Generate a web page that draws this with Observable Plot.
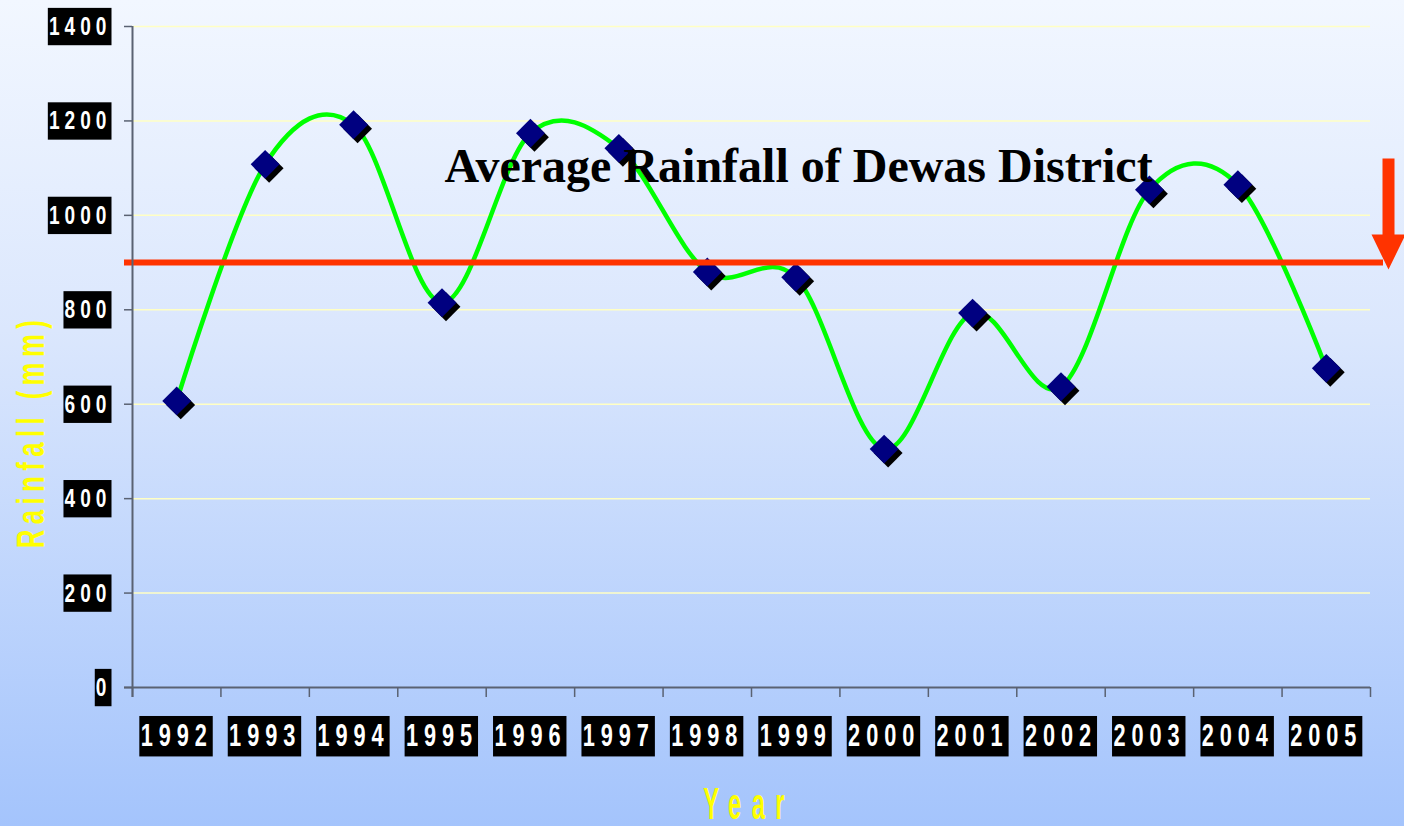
<!DOCTYPE html>
<html>
<head>
<meta charset="utf-8">
<script src="https://cdn.jsdelivr.net/npm/d3@7"></script>
<script src="https://cdn.jsdelivr.net/npm/@observablehq/plot@0.6"></script>
<style>
  html, body { margin: 0; padding: 0; }
  body { width: 1404px; height: 826px; overflow: hidden; }
  #chart svg { display: block; }
</style>
</head>
<body>
<div id="chart"></div>
<script>
// ---- data ----
const years = ["1992","1993","1994","1995","1996","1997","1998","1999","2000","2001","2002","2003","2004","2005"];
const rainfall = [607, 1108, 1192, 815, 1174, 1142, 880, 869, 505, 793, 637, 1054, 1065, 676];
const averageRainfall = [900];
const yTicks = [0, 200, 400, 600, 800, 1000, 1200, 1400];
const titleText = "Average Rainfall of Dewas District";
const xLabel = "Year";
const yLabel = "Rainfall (mm)";

const data = years.map((y, i) => ({year: +y, rainfall: rainfall[i]}));
const yearNums = years.map(Number);
const boundaries = yearNums.map(y => y - 0.5).concat([yearNums[yearNums.length - 1] + 0.5]);

const axisColor = "#5a6272";
const sans = "'Liberation Sans', Arial, sans-serif";

// filled arrow shape for the vector mark
const arrowShape = {
  draw(context, l) {
    const hl = 35, hw = 17, sw = 6;
    context.moveTo(-sw, 0);
    context.lineTo(-sw, -(l - hl));
    context.lineTo(-hw, -(l - hl));
    context.lineTo(0, -l);
    context.lineTo(hw, -(l - hl));
    context.lineTo(sw, -(l - hl));
    context.lineTo(sw, 0);
    context.closePath();
  }
};

const chart = Plot.plot({
  width: 1404,
  height: 826,
  marginLeft: 132,
  marginRight: 34,
  marginTop: 26,
  marginBottom: 139,
  style: {background: "linear-gradient(to bottom, #f2f7ff 0%, #dbe7fd 40%, #a4c4fc 100%)", overflow: "visible"},
  x: {domain: [boundaries[0], boundaries[boundaries.length - 1]], axis: null},
  y: {domain: [yTicks[0], yTicks[yTicks.length - 1]], axis: null},
  marks: [
    Plot.gridY(yTicks.slice(1), {stroke: "#ffffc4", strokeOpacity: 1, strokeWidth: 1.5}),
    Plot.line(data, {x: "year", y: "rainfall", curve: "cardinal", tension: 0, stroke: "#00ff00", strokeWidth: 4.5}),
    Plot.dot(data, {x: "year", y: "rainfall", symbol: "diamond2", r: 13, fill: "black", dx: 4, dy: 4}),
    Plot.dot(data, {x: "year", y: "rainfall", symbol: "diamond2", r: 13, fill: "#000080"}),
    Plot.ruleY(averageRainfall, {stroke: "#ff3300", strokeWidth: 6, insetLeft: -8, insetRight: -13}),
    Plot.vector(averageRainfall, {y: d => d, frameAnchor: "right", dx: 18, dy: 7, length: 111, rotate: 180, anchor: "end", shape: arrowShape, fill: "#ff3300", stroke: "none"}),
    // axis lines
    Plot.ruleX([boundaries[0]], {stroke: axisColor, strokeWidth: 2, insetBottom: -10}),
    Plot.ruleY([yTicks[0]], {stroke: axisColor, strokeWidth: 2, insetLeft: -8}),
    // y axis
    Plot.axisY({ticks: yTicks, label: null, tickSize: 8, tickPadding: 13, tickFormat: d => String(d), stroke: axisColor, strokeWidth: 1.5, fill: "white", fontSize: 26.5, fontWeight: "bold", fontFamily: sans}),
    // x axis boundary ticks
    Plot.axisX({ticks: boundaries, label: null, tickSize: 10, tickFormat: () => "", stroke: axisColor, strokeWidth: 1.5}),
    // x axis labels at year centres
    Plot.axisX({ticks: yearNums, label: null, tickSize: 0, tickPadding: 36, tickFormat: d => String(d), fill: "white", fontSize: 32, fontWeight: "bold", fontFamily: sans}),
    // title
    Plot.text([titleText], {text: d => d, frameAnchor: "top", textAnchor: "middle", dx: 47, dy: 140, lineAnchor: "middle", fontFamily: "'Liberation Serif', 'Times New Roman', serif", fontWeight: "bold", fontSize: 48, fill: "black"}),
    // axis titles
    Plot.text([yLabel], {text: d => d, frameAnchor: "left", textAnchor: "middle", rotate: -90, dx: -100.5, dy: 74.5, lineAnchor: "middle", fontFamily: sans, fontWeight: "bold", fontSize: 39, fill: "#ffff00"}),
    Plot.text([xLabel], {text: d => d, frameAnchor: "bottom", textAnchor: "middle", dx: -2.5, dy: 100, lineAnchor: "top", fontFamily: sans, fontWeight: "bold", fontSize: 45, fill: "#ffff00"})
  ]
});

document.getElementById("chart").appendChild(chart);

// ---- post-processing: condensed letter-spaced labels and black label boxes ----
function condense(el, sx, ls) {
  el.style.letterSpacing = ls + "px";
  const ax = parseFloat(el.getAttribute("x")) || 0;
  const t = el.getAttribute("transform") || "";
  el.setAttribute("transform", `${t} translate(${ax},0) scale(${sx},1) translate(${-ax},0)`);
}
function boxUnder(el, pad) {
  const b = el.getBBox();
  const r = document.createElementNS("http://www.w3.org/2000/svg", "rect");
  r.setAttribute("x", b.x - pad.l);
  r.setAttribute("y", b.y - pad.t);
  r.setAttribute("width", b.width + pad.l + pad.r);
  r.setAttribute("height", b.height + pad.t + pad.b);
  r.setAttribute("transform", el.getAttribute("transform") || "");
  r.setAttribute("fill", "black");
  r.setAttribute("stroke", "none");
  el.parentNode.insertBefore(r, el);
}

chart.querySelectorAll('g[aria-label="y-axis tick label"] text').forEach(el => {
  condense(el, 0.72, 7);
  el.setAttribute("fill", "white");
  boxUnder(el, {l: 1.5, r: 0, t: 3, b: 4.5});
});
chart.querySelectorAll('g[aria-label="x-axis tick label"] text').forEach(el => {
  if (!el.textContent.trim()) return;
  condense(el, 0.68, 8.7);
  el.setAttribute("fill", "white");
  boxUnder(el, {l: 2, r: 0, t: 1, b: 3.2});
});
chart.querySelectorAll('text').forEach(el => {
  if (el.textContent === yLabel) condense(el, 0.66, 8.2);
  if (el.textContent === xLabel) condense(el, 0.53, 19.5);
});
</script>
</body>
</html>
